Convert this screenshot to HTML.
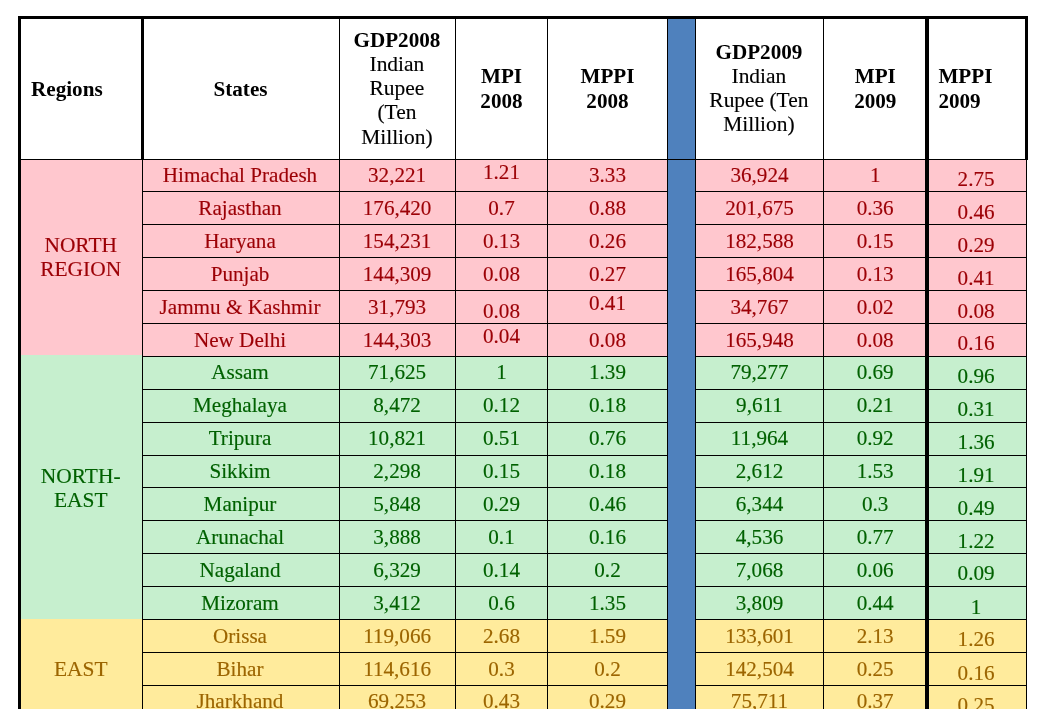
<!DOCTYPE html>
<html lang="en"><head><meta charset="utf-8">
<title>GDP, MPI and MPPI by region and state, 2008-2009</title>
<style>
html,body{margin:0;padding:0;background:#fff;}
body{width:1058px;height:714px;overflow:hidden;position:relative;font-family:"Liberation Serif","Times New Roman",Times,serif;font-size:21.15px;line-height:24px;color:#000;}
.f,.l,.c{position:absolute;}
.l{background:#000;}
.c{white-space:nowrap;text-align:center;-webkit-text-stroke:0.15px currentColor;}
.c b{font-weight:bold;font-size:21.15px;line-height:0;-webkit-text-stroke:0;}
.h{font-size:21.45px;}
.pk{color:#9C0006}.gn{color:#006100}.yl{color:#9C6500}
</style></head>
<body>
<div role="table" aria-label="GDP, MPI and MPPI by region and state">
<div aria-hidden="true">
<div class="f" style="left:21px;top:160px;width:121px;height:195px;background:#FFC7CE;"></div>
<div class="f" style="left:142px;top:160px;width:884px;height:196px;background:#FFC7CE;"></div>
<div class="f" style="left:21px;top:355px;width:121px;height:264px;background:#C6EFCE;"></div>
<div class="f" style="left:142px;top:356px;width:884px;height:263px;background:#C6EFCE;"></div>
<div class="f" style="left:21px;top:619px;width:121px;height:90px;background:#FFEB9C;"></div>
<div class="f" style="left:142px;top:619px;width:884px;height:90px;background:#FFEB9C;"></div>
<div class="f" style="left:667px;top:19px;width:29px;height:690px;background:#4F81BD;"></div>
<div class="l" style="left:18px;top:16px;width:1010px;height:3px;"></div>
<div class="l" style="left:21px;top:159px;width:1005px;height:1px;"></div>
<div class="l" style="left:143px;top:191px;width:524px;height:1px;"></div>
<div class="l" style="left:696px;top:191px;width:330px;height:1px;"></div>
<div class="l" style="left:143px;top:224px;width:524px;height:1px;"></div>
<div class="l" style="left:696px;top:224px;width:330px;height:1px;"></div>
<div class="l" style="left:143px;top:257px;width:524px;height:1px;"></div>
<div class="l" style="left:696px;top:257px;width:330px;height:1px;"></div>
<div class="l" style="left:143px;top:290px;width:524px;height:1px;"></div>
<div class="l" style="left:696px;top:290px;width:330px;height:1px;"></div>
<div class="l" style="left:143px;top:323px;width:524px;height:1px;"></div>
<div class="l" style="left:696px;top:323px;width:330px;height:1px;"></div>
<div class="l" style="left:143px;top:356px;width:524px;height:1px;"></div>
<div class="l" style="left:696px;top:356px;width:330px;height:1px;"></div>
<div class="l" style="left:143px;top:389px;width:524px;height:1px;"></div>
<div class="l" style="left:696px;top:389px;width:330px;height:1px;"></div>
<div class="l" style="left:143px;top:422px;width:524px;height:1px;"></div>
<div class="l" style="left:696px;top:422px;width:330px;height:1px;"></div>
<div class="l" style="left:143px;top:455px;width:524px;height:1px;"></div>
<div class="l" style="left:696px;top:455px;width:330px;height:1px;"></div>
<div class="l" style="left:143px;top:487px;width:524px;height:1px;"></div>
<div class="l" style="left:696px;top:487px;width:330px;height:1px;"></div>
<div class="l" style="left:143px;top:520px;width:524px;height:1px;"></div>
<div class="l" style="left:696px;top:520px;width:330px;height:1px;"></div>
<div class="l" style="left:143px;top:553px;width:524px;height:1px;"></div>
<div class="l" style="left:696px;top:553px;width:330px;height:1px;"></div>
<div class="l" style="left:143px;top:586px;width:524px;height:1px;"></div>
<div class="l" style="left:696px;top:586px;width:330px;height:1px;"></div>
<div class="l" style="left:143px;top:619px;width:524px;height:1px;"></div>
<div class="l" style="left:696px;top:619px;width:330px;height:1px;"></div>
<div class="l" style="left:143px;top:652px;width:524px;height:1px;"></div>
<div class="l" style="left:696px;top:652px;width:330px;height:1px;"></div>
<div class="l" style="left:143px;top:685px;width:524px;height:1px;"></div>
<div class="l" style="left:696px;top:685px;width:330px;height:1px;"></div>
<div class="l" style="left:18px;top:16px;width:3px;height:693px;"></div>
<div class="l" style="left:141px;top:19px;width:3px;height:141px;"></div>
<div class="l" style="left:142px;top:160px;width:1px;height:549px;"></div>
<div class="l" style="left:339px;top:19px;width:1px;height:690px;"></div>
<div class="l" style="left:455px;top:19px;width:1px;height:690px;"></div>
<div class="l" style="left:547px;top:19px;width:1px;height:690px;"></div>
<div class="l" style="left:667px;top:19px;width:1px;height:690px;"></div>
<div class="l" style="left:695px;top:19px;width:1px;height:690px;"></div>
<div class="l" style="left:823px;top:19px;width:1px;height:690px;"></div>
<div class="l" style="left:925px;top:16px;width:4px;height:693px;"></div>
<div class="l" style="left:1025px;top:16px;width:3px;height:144px;"></div>
<div class="l" style="left:1026px;top:160px;width:1px;height:549px;"></div>
</div>
<div role="row">
<div class="c" role="columnheader" style="left:31px;top:77px;width:121px;text-align:left;"><b>Regions</b></div>
<div class="c" role="columnheader" style="left:142.5px;top:77px;width:196px;"><b>States</b></div>
<div class="c h" role="columnheader" style="left:339.4px;top:27.6px;width:115px;line-height:24.25px;"><b>GDP2008</b><br>Indian<br>Rupee<br>(Ten<br>Million)</div>
<div class="c" role="columnheader" style="left:456px;top:64px;width:91px;line-height:25px;"><b>MPI</b><br><b>2008</b></div>
<div class="c" role="columnheader" style="left:548px;top:64px;width:119px;line-height:25px;"><b>MPPI</b><br><b>2008</b></div>
<div class="c h" role="columnheader" style="left:695.4px;top:40px;width:127px;"><b>GDP2009</b><br>Indian<br>Rupee (Ten<br>Million)</div>
<div class="c" role="columnheader" style="left:824.8px;top:64px;width:101px;line-height:25px;"><b>MPI</b><br><b>2009</b></div>
<div class="c" role="columnheader" style="left:938.4px;top:64px;width:97px;line-height:25px;text-align:left;"><b>MPPI</b><br><b>2009</b></div>
</div>
<div role="row">
<div class="c h pk" role="rowheader" style="left:20.2px;top:233px;width:121px;">NORTH<br>REGION</div>
<div class="c pk" role="cell" style="left:142px;top:163px;width:196px;">Himachal Pradesh</div>
<div class="c pk" role="cell" style="left:339.6px;top:163px;width:115px;">32,221</div>
<div class="c pk" role="cell" style="left:456px;top:160px;width:91px;">1.21</div>
<div class="c pk" role="cell" style="left:548px;top:163px;width:119px;">3.33</div>
<div class="c pk" role="cell" style="left:696px;top:163px;width:127px;">36,924</div>
<div class="c pk" role="cell" style="left:824.7px;top:163px;width:101px;">1</div>
<div class="c pk" role="cell" style="left:927.6px;top:167px;width:97px;">2.75</div>
</div>
<div role="row">
<div class="c pk" role="cell" style="left:142px;top:196px;width:196px;">Rajasthan</div>
<div class="c pk" role="cell" style="left:339.6px;top:196px;width:115px;">176,420</div>
<div class="c pk" role="cell" style="left:456px;top:196px;width:91px;">0.7</div>
<div class="c pk" role="cell" style="left:548px;top:196px;width:119px;">0.88</div>
<div class="c pk" role="cell" style="left:696px;top:196px;width:127px;">201,675</div>
<div class="c pk" role="cell" style="left:824.7px;top:196px;width:101px;">0.36</div>
<div class="c pk" role="cell" style="left:927.6px;top:200px;width:97px;">0.46</div>
</div>
<div role="row">
<div class="c pk" role="cell" style="left:142px;top:229px;width:196px;">Haryana</div>
<div class="c pk" role="cell" style="left:339.6px;top:229px;width:115px;">154,231</div>
<div class="c pk" role="cell" style="left:456px;top:229px;width:91px;">0.13</div>
<div class="c pk" role="cell" style="left:548px;top:229px;width:119px;">0.26</div>
<div class="c pk" role="cell" style="left:696px;top:229px;width:127px;">182,588</div>
<div class="c pk" role="cell" style="left:824.7px;top:229px;width:101px;">0.15</div>
<div class="c pk" role="cell" style="left:927.6px;top:233px;width:97px;">0.29</div>
</div>
<div role="row">
<div class="c pk" role="cell" style="left:142px;top:262px;width:196px;">Punjab</div>
<div class="c pk" role="cell" style="left:339.6px;top:262px;width:115px;">144,309</div>
<div class="c pk" role="cell" style="left:456px;top:262px;width:91px;">0.08</div>
<div class="c pk" role="cell" style="left:548px;top:262px;width:119px;">0.27</div>
<div class="c pk" role="cell" style="left:696px;top:262px;width:127px;">165,804</div>
<div class="c pk" role="cell" style="left:824.7px;top:262px;width:101px;">0.13</div>
<div class="c pk" role="cell" style="left:927.6px;top:266px;width:97px;">0.41</div>
</div>
<div role="row">
<div class="c pk" role="cell" style="left:142px;top:295px;width:196px;">Jammu &amp; Kashmir</div>
<div class="c pk" role="cell" style="left:339.6px;top:295px;width:115px;">31,793</div>
<div class="c pk" role="cell" style="left:456px;top:299px;width:91px;">0.08</div>
<div class="c pk" role="cell" style="left:548px;top:291px;width:119px;">0.41</div>
<div class="c pk" role="cell" style="left:696px;top:295px;width:127px;">34,767</div>
<div class="c pk" role="cell" style="left:824.7px;top:295px;width:101px;">0.02</div>
<div class="c pk" role="cell" style="left:927.6px;top:299px;width:97px;">0.08</div>
</div>
<div role="row">
<div class="c pk" role="cell" style="left:142px;top:328px;width:196px;">New Delhi</div>
<div class="c pk" role="cell" style="left:339.6px;top:328px;width:115px;">144,303</div>
<div class="c pk" role="cell" style="left:456px;top:324px;width:91px;">0.04</div>
<div class="c pk" role="cell" style="left:548px;top:328px;width:119px;">0.08</div>
<div class="c pk" role="cell" style="left:696px;top:328px;width:127px;">165,948</div>
<div class="c pk" role="cell" style="left:824.7px;top:328px;width:101px;">0.08</div>
<div class="c pk" role="cell" style="left:927.6px;top:331px;width:97px;">0.16</div>
</div>
<div role="row">
<div class="c h gn" role="rowheader" style="left:20.2px;top:464px;width:121px;">NORTH-<br>EAST</div>
<div class="c gn" role="cell" style="left:142px;top:360px;width:196px;">Assam</div>
<div class="c gn" role="cell" style="left:339.6px;top:360px;width:115px;">71,625</div>
<div class="c gn" role="cell" style="left:456px;top:360px;width:91px;">1</div>
<div class="c gn" role="cell" style="left:548px;top:360px;width:119px;">1.39</div>
<div class="c gn" role="cell" style="left:696px;top:360px;width:127px;">79,277</div>
<div class="c gn" role="cell" style="left:824.7px;top:360px;width:101px;">0.69</div>
<div class="c gn" role="cell" style="left:927.6px;top:364px;width:97px;">0.96</div>
</div>
<div role="row">
<div class="c gn" role="cell" style="left:142px;top:393px;width:196px;">Meghalaya</div>
<div class="c gn" role="cell" style="left:339.6px;top:393px;width:115px;">8,472</div>
<div class="c gn" role="cell" style="left:456px;top:393px;width:91px;">0.12</div>
<div class="c gn" role="cell" style="left:548px;top:393px;width:119px;">0.18</div>
<div class="c gn" role="cell" style="left:696px;top:393px;width:127px;">9,611</div>
<div class="c gn" role="cell" style="left:824.7px;top:393px;width:101px;">0.21</div>
<div class="c gn" role="cell" style="left:927.6px;top:397px;width:97px;">0.31</div>
</div>
<div role="row">
<div class="c gn" role="cell" style="left:142px;top:426px;width:196px;">Tripura</div>
<div class="c gn" role="cell" style="left:339.6px;top:426px;width:115px;">10,821</div>
<div class="c gn" role="cell" style="left:456px;top:426px;width:91px;">0.51</div>
<div class="c gn" role="cell" style="left:548px;top:426px;width:119px;">0.76</div>
<div class="c gn" role="cell" style="left:696px;top:426px;width:127px;">11,964</div>
<div class="c gn" role="cell" style="left:824.7px;top:426px;width:101px;">0.92</div>
<div class="c gn" role="cell" style="left:927.6px;top:430px;width:97px;">1.36</div>
</div>
<div role="row">
<div class="c gn" role="cell" style="left:142px;top:459px;width:196px;">Sikkim</div>
<div class="c gn" role="cell" style="left:339.6px;top:459px;width:115px;">2,298</div>
<div class="c gn" role="cell" style="left:456px;top:459px;width:91px;">0.15</div>
<div class="c gn" role="cell" style="left:548px;top:459px;width:119px;">0.18</div>
<div class="c gn" role="cell" style="left:696px;top:459px;width:127px;">2,612</div>
<div class="c gn" role="cell" style="left:824.7px;top:459px;width:101px;">1.53</div>
<div class="c gn" role="cell" style="left:927.6px;top:463px;width:97px;">1.91</div>
</div>
<div role="row">
<div class="c gn" role="cell" style="left:142px;top:492px;width:196px;">Manipur</div>
<div class="c gn" role="cell" style="left:339.6px;top:492px;width:115px;">5,848</div>
<div class="c gn" role="cell" style="left:456px;top:492px;width:91px;">0.29</div>
<div class="c gn" role="cell" style="left:548px;top:492px;width:119px;">0.46</div>
<div class="c gn" role="cell" style="left:696px;top:492px;width:127px;">6,344</div>
<div class="c gn" role="cell" style="left:824.7px;top:492px;width:101px;">0.3</div>
<div class="c gn" role="cell" style="left:927.6px;top:496px;width:97px;">0.49</div>
</div>
<div role="row">
<div class="c gn" role="cell" style="left:142px;top:525px;width:196px;">Arunachal</div>
<div class="c gn" role="cell" style="left:339.6px;top:525px;width:115px;">3,888</div>
<div class="c gn" role="cell" style="left:456px;top:525px;width:91px;">0.1</div>
<div class="c gn" role="cell" style="left:548px;top:525px;width:119px;">0.16</div>
<div class="c gn" role="cell" style="left:696px;top:525px;width:127px;">4,536</div>
<div class="c gn" role="cell" style="left:824.7px;top:525px;width:101px;">0.77</div>
<div class="c gn" role="cell" style="left:927.6px;top:529px;width:97px;">1.22</div>
</div>
<div role="row">
<div class="c gn" role="cell" style="left:142px;top:558px;width:196px;">Nagaland</div>
<div class="c gn" role="cell" style="left:339.6px;top:558px;width:115px;">6,329</div>
<div class="c gn" role="cell" style="left:456px;top:558px;width:91px;">0.14</div>
<div class="c gn" role="cell" style="left:548px;top:558px;width:119px;">0.2</div>
<div class="c gn" role="cell" style="left:696px;top:558px;width:127px;">7,068</div>
<div class="c gn" role="cell" style="left:824.7px;top:558px;width:101px;">0.06</div>
<div class="c gn" role="cell" style="left:927.6px;top:561px;width:97px;">0.09</div>
</div>
<div role="row">
<div class="c gn" role="cell" style="left:142px;top:591px;width:196px;">Mizoram</div>
<div class="c gn" role="cell" style="left:339.6px;top:591px;width:115px;">3,412</div>
<div class="c gn" role="cell" style="left:456px;top:591px;width:91px;">0.6</div>
<div class="c gn" role="cell" style="left:548px;top:591px;width:119px;">1.35</div>
<div class="c gn" role="cell" style="left:696px;top:591px;width:127px;">3,809</div>
<div class="c gn" role="cell" style="left:824.7px;top:591px;width:101px;">0.44</div>
<div class="c gn" role="cell" style="left:927.6px;top:595px;width:97px;">1</div>
</div>
<div role="row">
<div class="c h yl" role="rowheader" style="left:20.2px;top:657px;width:121px;">EAST</div>
<div class="c yl" role="cell" style="left:142px;top:624px;width:196px;">Orissa</div>
<div class="c yl" role="cell" style="left:339.6px;top:624px;width:115px;">119,066</div>
<div class="c yl" role="cell" style="left:456px;top:624px;width:91px;">2.68</div>
<div class="c yl" role="cell" style="left:548px;top:624px;width:119px;">1.59</div>
<div class="c yl" role="cell" style="left:696px;top:624px;width:127px;">133,601</div>
<div class="c yl" role="cell" style="left:824.7px;top:624px;width:101px;">2.13</div>
<div class="c yl" role="cell" style="left:927.6px;top:627px;width:97px;">1.26</div>
</div>
<div role="row">
<div class="c yl" role="cell" style="left:142px;top:657px;width:196px;">Bihar</div>
<div class="c yl" role="cell" style="left:339.6px;top:657px;width:115px;">114,616</div>
<div class="c yl" role="cell" style="left:456px;top:657px;width:91px;">0.3</div>
<div class="c yl" role="cell" style="left:548px;top:657px;width:119px;">0.2</div>
<div class="c yl" role="cell" style="left:696px;top:657px;width:127px;">142,504</div>
<div class="c yl" role="cell" style="left:824.7px;top:657px;width:101px;">0.25</div>
<div class="c yl" role="cell" style="left:927.6px;top:661px;width:97px;">0.16</div>
</div>
<div role="row">
<div class="c yl" role="cell" style="left:142px;top:689px;width:196px;">Jharkhand</div>
<div class="c yl" role="cell" style="left:339.6px;top:689px;width:115px;">69,253</div>
<div class="c yl" role="cell" style="left:456px;top:689px;width:91px;">0.43</div>
<div class="c yl" role="cell" style="left:548px;top:689px;width:119px;">0.29</div>
<div class="c yl" role="cell" style="left:696px;top:689px;width:127px;">75,711</div>
<div class="c yl" role="cell" style="left:824.7px;top:689px;width:101px;">0.37</div>
<div class="c yl" role="cell" style="left:927.6px;top:693px;width:97px;">0.25</div>
</div>
</div>
<div class="f" style="left:0px;top:709px;width:1058px;height:5px;background:#fff;"></div>
</body></html>
